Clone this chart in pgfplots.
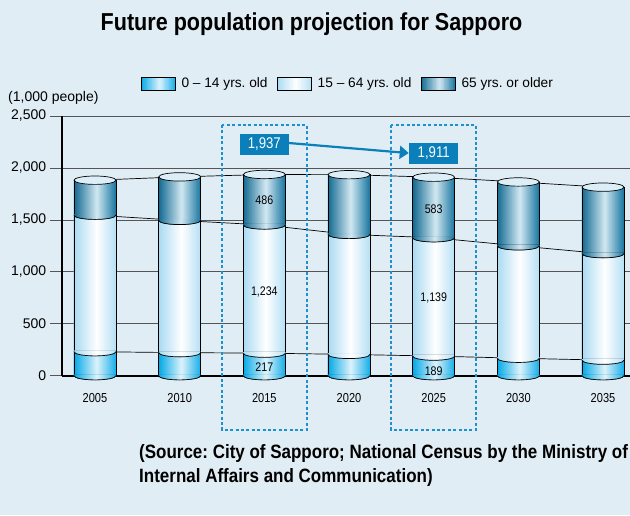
\documentclass[border=0pt]{standalone}
\usepackage{pgfplots}
\pgfplotsset{compat=1.18}
\usepackage{pgfplotstable}
\usepackage{fontspec}
\setmainfont{Liberation Sans}
\newfontfamily\narrowfont{Liberation Sans}[FakeStretch=0.85]
\newfontfamily\titlefont{Liberation Sans}[FakeStretch=0.88]
\usetikzlibrary{arrows.meta}
\frenchspacing
\definecolor{bg}{HTML}{E1EDF4}
\definecolor{gridc}{HTML}{555555}
\definecolor{aL}{HTML}{00A8E6}\definecolor{aM}{HTML}{DDF3FC}\definecolor{aR}{HTML}{1CB0EA}
\definecolor{bL}{HTML}{A8DAF2}\definecolor{bM}{HTML}{FFFFFF}\definecolor{bR}{HTML}{B8E1F5}
\definecolor{cL}{HTML}{0F6890}\definecolor{cM}{HTML}{D2E8F2}\definecolor{cR}{HTML}{1D78A2}
\definecolor{topc}{HTML}{DCEFF8}
\definecolor{callout}{HTML}{0A7FBA}
\definecolor{dashc}{HTML}{1E8FCF}

% 42-step horizontal gradient colours: prefix, left, middle, right
\newcommand\mkgrad[4]{%
  \pgfplotsforeachungrouped \i in {0,...,41}{%
    \pgfmathsetmacro\t{(\i+0.5)/42}%
    \ifdim\t pt<0.55pt
      \pgfmathtruncatemacro\p{100*\t/0.55}%
      \colorlet{#1\i}{#3!\p!#2}%
    \else
      \pgfmathtruncatemacro\p{100*(\t-0.55)/0.45}%
      \colorlet{#1\i}{#4!\p!#3}%
    \fi}}
\mkgrad{aS}{aL}{aM}{aR}
\mkgrad{bS}{bL}{bM}{bR}
\mkgrad{cS}{cL}{cM}{cR}

\newcommand\defcap[2]{%
\pgfdeclareplotmark{#1}{%
  \begin{scope}
  \clip (-21pt,1pt) -- (21pt,1pt) -- (21pt,0pt) arc[start angle=0,end angle=-180,x radius=21pt,y radius=4.2pt] -- cycle;
  \foreach \k in {0,...,41}{\fill[#2\k] ({-21pt+1pt*\k},-5pt) rectangle ++(1.25pt,6.5pt);}
  \end{scope}
  \draw[line width=0.7pt] (21pt,0pt) arc[start angle=0,end angle=-180,x radius=21pt,y radius=4.2pt];
}}
\defcap{capA}{aS}
\defcap{capB}{bS}
\defcap{capC}{cS}
\pgfdeclareplotmark{capTop}{%
  \filldraw[fill=topc, line width=0.7pt] (0pt,0pt) ellipse[x radius=21pt, y radius=4.2pt];
}

\pgfplotsset{base/.style={at={(61.7pt,139.3pt)}, anchor=south west, scale only axis,
  width=568.3pt, height=259.7pt, xmin=-0.3933, xmax=6.3186, ymin=0, ymax=2500, clip=false}}

% x: 0=2005 ... 6=2035; a = 0-14, b = 15-64, c = 65+ ; cumulative tops
\pgfplotstableread{
x  a    b     c    cum1  cum2  tot
0  231  1314  337  231   1545  1882
1  222  1273  419  222   1495  1914
2  217  1234  486  217   1451  1937
3  205  1155  575  205   1360  1935
4  189  1139  583  189   1328  1911
5  168  1082  615  168   1250  1865
6  150  1025  640  150   1175  1815
}\data

\begin{document}
\begin{tikzpicture}
\useasboundingbox (0pt,0pt) rectangle (630pt,515pt);
\fill[bg] (0pt,0pt) rectangle (630pt,515pt);

% background axis: grid, ticks, connecting lines
\begin{axis}[base,
  axis x line*=bottom, axis y line*=left,
  axis line style={-, line width=2pt, black},
  ymajorgrids, grid style={line width=0.7pt, gridc},
  ytick={0,500,1000,1500,2000,2500},
  major tick length=12pt, tick align=outside,
  ytick style={line width=0.7pt, gridc},
  xtick={0,1,2,3,4,5,6},
  xticklabels={2005,2010,2015,2020,2025,2030,2035},
  xtick style={draw=none},
  /pgf/number format/assume math mode=true,
  /pgf/number format/1000 sep={,},
  yticklabel style={font=\fontsize{14}{16}\selectfont},
  xticklabel style={font=\narrowfont\fontsize{13}{15}\selectfont, yshift=-2pt},
]
\addplot[black, line width=0.7pt] table[x=x, y=cum1] {\data};
\addplot[black, line width=0.7pt] table[x=x, y=cum2] {\data};
\addplot[black, line width=0.7pt] table[x=x, y=tot] {\data};
\end{axis}

% bars: overlapping layers, each a 42-strip horizontal gradient
\begin{axis}[base, hide axis, ybar]
\pgfplotsinvokeforeach{0,...,41}{
  \addplot[ybar, bar width=1.25pt, bar shift={(-20.5+#1)*1pt}, fill=cS#1, draw=none] table[x=x, y=tot] {\data};
}
\pgfplotsinvokeforeach{0,...,41}{
  \addplot[ybar, bar width=1.25pt, bar shift={(-20.5+#1)*1pt}, fill=bS#1, draw=none] table[x=x, y=cum2] {\data};
}
\pgfplotsinvokeforeach{0,...,41}{
  \addplot[ybar, bar width=1.25pt, bar shift={(-20.5+#1)*1pt}, fill=aS#1, draw=none] table[x=x, y=cum1] {\data};
}
\addplot[ybar, bar width=42pt, bar shift=0pt, fill=none, draw=black, line width=0.7pt] table[x=x, y=tot] {\data};
\end{axis}

% caps, labels, callouts, legend
\begin{axis}[base, hide axis,
  legend columns=3,
  legend style={at={(axis description cs:0.139,1.1252)}, anchor=west, draw=none, fill=none,
    inner sep=0pt, font=\fontsize{13.7}{15}\selectfont, cells={anchor=west},
    /tikz/every odd column/.append style={column sep=4pt},
    /tikz/every even column/.append style={column sep=7.5pt}},
]
\addlegendimage{legend image code/.code={\foreach \k in {0,...,41}{\fill[aS\k] ({34pt*\k/42},-6.5pt) rectangle ++(0.95pt,13pt);} \draw[line width=0.6pt] (0pt,-6.5pt) rectangle (34pt,6.5pt);}}
\addlegendentry{0 – 14 yrs. old}
\addlegendimage{legend image code/.code={\foreach \k in {0,...,41}{\fill[bS\k] ({34pt*\k/42},-6.5pt) rectangle ++(0.95pt,13pt);} \draw[line width=0.6pt] (0pt,-6.5pt) rectangle (34pt,6.5pt);}}
\addlegendentry{15 – 64 yrs. old}
\addlegendimage{legend image code/.code={\foreach \k in {0,...,41}{\fill[cS\k] ({34pt*\k/42},-6.5pt) rectangle ++(0.95pt,13pt);} \draw[line width=0.6pt] (0pt,-6.5pt) rectangle (34pt,6.5pt);}}
\addlegendentry{65 yrs. or older}

\addplot[only marks, mark=capA, forget plot] table[x=x, y expr=0] {\data};
\addplot[only marks, mark=capB, forget plot] table[x=x, y=cum1] {\data};
\addplot[only marks, mark=capC, forget plot] table[x=x, y=cum2] {\data};
\addplot[only marks, mark=capTop, forget plot] table[x=x, y=tot] {\data};

% value labels
\addplot[only marks, mark=none, forget plot, nodes near coords, point meta=explicit symbolic,
  nodes near coords align=center,
  every node near coord/.append style={font=\narrowfont\fontsize{12.5}{14}\selectfont, anchor=center, inner sep=0pt}]
  coordinates {(2,78) [217] (2,805) [1{,}234] (2,1690) [486] (4,40) [189] (4,751) [1{,}139] (4,1602) [583]};

% callouts
\addplot[only marks, mark=none, forget plot, nodes near coords, point meta=explicit symbolic,
  nodes near coords align=center,
  every node near coord/.append style={font=\narrowfont\fontsize{15.5}{17}\selectfont, anchor=center, fill=callout, text=white,
    minimum width=49pt, minimum height=21pt, inner sep=0pt}]
  coordinates {(2,2225) [1{,}937] (4,2139) [1{,}911]};

\draw[callout, line width=2.2pt, -{Triangle[length=9pt, width=13pt]}] (axis cs:2.289,2240) -- (axis cs:3.705,2143);

\draw[dashc, line width=1.6pt, dash pattern=on 3pt off 2.4pt] (axis cs:1.5,2413) rectangle (axis cs:2.504,-523);
\draw[dashc, line width=1.6pt, dash pattern=on 3pt off 2.4pt] (axis cs:3.496,2413) rectangle (axis cs:4.5,-523);
\end{axis}

\node[anchor=base, font=\titlefont\bfseries\fontsize{24.5}{27}\selectfont] at (311.5pt,484pt) {Future population projection for Sapporo};
\node[anchor=base west, inner sep=0pt, font=\fontsize{14}{16}\selectfont] at (8pt,413pt) {(1,000 people)};
\node[anchor=base west, inner sep=0pt, font=\titlefont\bfseries\fontsize{19.3}{22}\selectfont] at (139pt,57pt) {(Source: City of Sapporo; National Census by the Ministry of};
\node[anchor=base west, inner sep=0pt, font=\titlefont\bfseries\fontsize{19.3}{22}\selectfont] at (139pt,33pt) {Internal Affairs and Communication)};
\end{tikzpicture}
\end{document}
